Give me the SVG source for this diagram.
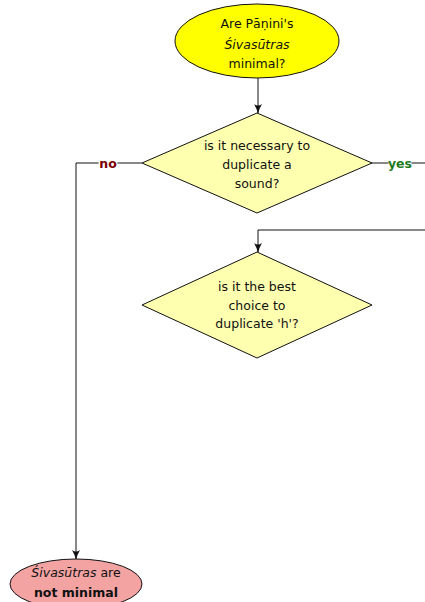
<svg xmlns="http://www.w3.org/2000/svg" width="425" height="602" viewBox="0 0 425 602">
<style>
text{font-family:"DejaVu Sans","Liberation Sans",sans-serif;font-size:12.5px;fill:#111;text-anchor:middle}
.it{font-style:italic}
.b{font-weight:bold}
.dec{fill:#FFFFB0;stroke:#111;stroke-width:1}
.conn{fill:none;stroke:#111;stroke-width:1}
.no{fill:#7a0000;font-weight:bold}
.yes{fill:#1d7a1d;font-weight:bold}
</style>
<defs>
<marker id="arr" viewBox="0 0 10 10" refX="9" refY="5" markerWidth="10" markerHeight="10" markerUnits="userSpaceOnUse" orient="auto">
<path d="M0,1 Q5,4 10,5 Q5,6 0,9 Q3,5 0,1 Z" fill="#111"/>
</marker>
</defs>
<g id="connectors">
<path class="conn" d="M258,78 V113" marker-end="url(#arr)"/>
<path class="conn" d="M142,163 H76 V559" marker-end="url(#arr)"/>
<rect x="98.5" y="155" width="19" height="16" fill="#fff"/>
<text class="no" x="108" y="168">no</text>
<path class="conn" d="M371,163 H425"/>
<rect x="388.5" y="155" width="23" height="16" fill="#fff"/>
<text class="yes" x="400" y="168">yes</text>
<path class="conn" d="M425,230 H258 V252" marker-end="url(#arr)"/>
</g>
<g id="start">
<ellipse cx="257" cy="41" rx="82" ry="37" fill="#FFFF00" stroke="#111"/>
<text x="257" y="28">Are Pāṇini's</text>
<text class="it" x="257" y="49">Śivasūtras</text>
<text x="257" y="68">minimal?</text>
</g>
<g id="dup-sound">
<polygon class="dec" points="257,113 372,163 257,213 142,163"/>
<text x="257" y="150">is it necessary to</text>
<text x="257" y="169">duplicate a</text>
<text x="257" y="188">sound?</text>
</g>
<g id="dup-h">
<polygon class="dec" points="257,252 372,305 257,358 142,305"/>
<text x="257" y="291">is it the best</text>
<text x="257" y="310">choice to</text>
<text x="257" y="328">duplicate 'h'?</text>
</g>
<g id="not-minimal">
<ellipse cx="76" cy="584" rx="66" ry="25" fill="#F4A3A3" stroke="#111"/>
<text x="76" y="577"><tspan class="it">Śivasūtras</tspan> are</text>
<text class="b" x="76" y="597">not minimal</text>
</g>
</svg>
